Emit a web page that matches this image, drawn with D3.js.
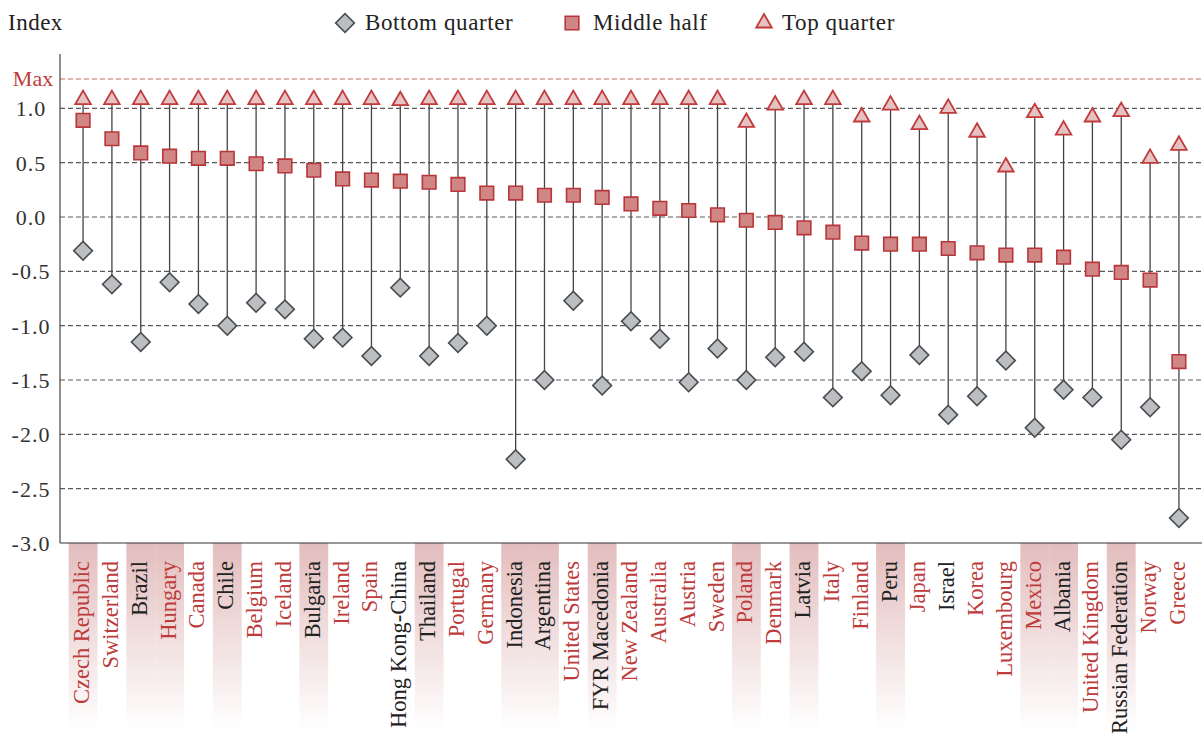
<!DOCTYPE html>
<html>
<head>
<meta charset="utf-8">
<script src="https://cdn.jsdelivr.net/npm/d3@7"></script>
<style>
body { margin: 0; background: #fff; }
text { font-family: "Liberation Serif", "DejaVu Serif", serif; }
</style>
</head>
<body>
<div id="chart"></div>
<script>

// Data
var countries = ["Czech Republic","Switzerland","Brazil","Hungary","Canada","Chile","Belgium","Iceland","Bulgaria","Ireland","Spain","Hong Kong-China","Thailand","Portugal","Germany","Indonesia","Argentina","United States","FYR Macedonia","New Zealand","Australia","Austria","Sweden","Poland","Denmark","Latvia","Italy","Finland","Peru","Japan","Israel","Korea","Luxembourg","Mexico","Albania","United Kingdom","Russian Federation","Norway","Greece"];

var bottomQuarter = [-0.31,-0.62,-1.15,-0.60,-0.80,-1.00,-0.79,-0.85,-1.12,-1.11,-1.28,-0.65,-1.28,-1.16,-1.00,-2.23,-1.50,-0.77,-1.55,-0.96,-1.12,-1.52,-1.21,-1.50,-1.29,-1.24,-1.66,-1.42,-1.64,-1.27,-1.82,-1.65,-1.32,-1.94,-1.59,-1.66,-2.05,-1.75,-2.77];

var middleHalf = [0.89,0.72,0.59,0.56,0.54,0.54,0.49,0.47,0.43,0.35,0.34,0.33,0.32,0.30,0.22,0.22,0.20,0.20,0.18,0.12,0.08,0.06,0.02,-0.03,-0.05,-0.10,-0.14,-0.24,-0.25,-0.25,-0.29,-0.33,-0.35,-0.35,-0.37,-0.48,-0.51,-0.58,-1.33];

var topQuarter = [1.08,1.08,1.08,1.08,1.08,1.08,1.08,1.08,1.08,1.08,1.08,1.07,1.08,1.08,1.08,1.08,1.08,1.08,1.08,1.08,1.08,1.08,1.08,0.87,1.03,1.08,1.08,0.92,1.03,0.85,1.00,0.78,0.46,0.96,0.80,0.92,0.97,0.54,0.66];

// partner countries get black labels, the rest red
var partnerCountries = ["Brazil","Chile","Bulgaria","Hong Kong-China","Thailand","Indonesia","Argentina","FYR Macedonia","Latvia","Peru","Israel","Albania","Russian Federation"];
// countries with shaded label background
var shadedCountries = ["Czech Republic","Brazil","Hungary","Chile","Bulgaria","Thailand","Indonesia","Argentina","FYR Macedonia","Poland","Latvia","Peru","Mexico","Albania","Russian Federation"];

var yTicks = [1.0,0.5,0.0,-0.5,-1.0,-1.5,-2.0,-2.5,-3.0];
var maxValue = 1.27;
var legendLabels = ["Bottom quarter","Middle half","Top quarter"];

var W = 1202, H = 740;
var plotLeft = 60, plotRight = 1202, plotTop = 54, plotBottom = 543;

var red = "#bd3b3b";

var svg = d3.select("#chart").append("svg")
  .attr("width", W)
  .attr("height", H);

var defs = svg.append("defs");
var grad = defs.append("linearGradient")
  .attr("id", "shade")
  .attr("x1", 0).attr("y1", 0).attr("x2", 0).attr("y2", 1);
grad.append("stop").attr("offset", "0%").attr("stop-color", "#e3bdbd");
grad.append("stop").attr("offset", "100%").attr("stop-color", "#ffffff");

var x = d3.scalePoint()
  .domain(countries)
  .range([plotLeft, plotRight])
  .padding(0.8);

var step = x.step();

var y = d3.scaleLinear()
  .domain([-3, 1.5])
  .range([plotBottom, plotTop]);

// shaded label bands
svg.append("g").selectAll("rect")
  .data(countries.filter(function(c) { return shadedCountries.indexOf(c) >= 0; }))
  .enter().append("rect")
  .attr("x", function(d) { return x(d) - step/2; })
  .attr("y", plotBottom)
  .attr("width", step)
  .attr("height", 187)
  .attr("fill", "url(#shade)");

// grid lines
svg.append("g").selectAll("line")
  .data(yTicks.slice(0, -1))
  .enter().append("line")
  .attr("x1", plotLeft).attr("x2", plotRight)
  .attr("y1", function(d) { return y(d); })
  .attr("y2", function(d) { return y(d); })
  .attr("stroke", "#5a5a5a")
  .attr("stroke-width", 1.1)
  .attr("stroke-dasharray", "5,3");

// max line
svg.append("line")
  .attr("x1", plotLeft).attr("x2", plotRight)
  .attr("y1", y(maxValue)).attr("y2", y(maxValue))
  .attr("stroke", "#d06a6a")
  .attr("stroke-width", 1.2)
  .attr("stroke-dasharray", "5,3");

svg.append("text")
  .attr("x", 33).attr("y", y(maxValue) + 7)
  .attr("text-anchor", "middle")
  .attr("font-size", 22)
  .attr("fill", red)
  .text("Max");

// y tick labels
svg.append("g").selectAll("text")
  .data(yTicks)
  .enter().append("text")
  .attr("x", 31)
  .attr("y", function(d) { return y(d) + 8; })
  .attr("text-anchor", "middle")
  .attr("font-size", 22)
  .attr("letter-spacing", 1)
  .attr("fill", "#333")
  .text(function(d) { return d3.format(".1f")(d).replace("\u2212", "-"); });

// axis lines
svg.append("line")
  .attr("x1", plotLeft).attr("x2", plotLeft)
  .attr("y1", plotTop).attr("y2", plotBottom)
  .attr("stroke", "#444").attr("stroke-width", 1.2);
svg.append("line")
  .attr("x1", plotLeft).attr("x2", plotRight)
  .attr("y1", plotBottom).attr("y2", plotBottom)
  .attr("stroke", "#333").attr("stroke-width", 1.2);

// vertical range lines
var idx = d3.range(countries.length);
svg.append("g").selectAll("line")
  .data(idx)
  .enter().append("line")
  .attr("x1", function(i) { return x(countries[i]); })
  .attr("x2", function(i) { return x(countries[i]); })
  .attr("y1", function(i) { return y(topQuarter[i]); })
  .attr("y2", function(i) { return y(bottomQuarter[i]); })
  .attr("stroke", "#444")
  .attr("stroke-width", 1.3);

var diamond = d3.symbol().type(d3.symbolSquare).size(175);
var square = d3.symbol().type(d3.symbolSquare).size(185);
var triangle = d3.symbol().type(d3.symbolTriangle).size(105);

function drawDiamond(sel) {
  sel.attr("d", diamond)
    .attr("fill", "#bcbec1")
    .attr("stroke", "#474c4f")
    .attr("stroke-width", 1.6);
}
function drawSquare(sel) {
  sel.attr("d", square)
    .attr("fill", "#d08684")
    .attr("stroke", "#b8353a")
    .attr("stroke-width", 1.6);
}
function drawTriangle(sel) {
  sel.attr("d", triangle)
    .attr("fill", "#e6c3c3")
    .attr("stroke", "#c13a3c")
    .attr("stroke-width", 1.8);
}

svg.append("g").selectAll("path")
  .data(idx)
  .enter().append("path")
  .attr("transform", function(i) { return "translate(" + x(countries[i]) + "," + y(bottomQuarter[i]) + ") rotate(45)"; })
  .call(drawDiamond);

svg.append("g").selectAll("path")
  .data(idx)
  .enter().append("path")
  .attr("transform", function(i) { return "translate(" + x(countries[i]) + "," + y(middleHalf[i]) + ")"; })
  .call(drawSquare);

svg.append("g").selectAll("path")
  .data(idx)
  .enter().append("path")
  .attr("transform", function(i) { return "translate(" + x(countries[i]) + "," + y(topQuarter[i]) + ")"; })
  .call(drawTriangle);

// country labels
svg.append("g").selectAll("text")
  .data(countries)
  .enter().append("text")
  .attr("transform", function(d) { return "translate(" + (x(d) + 6) + ",561) rotate(-90)"; })
  .attr("text-anchor", "end")
  .attr("font-size", 22.5)
  .attr("fill", function(d) { return partnerCountries.indexOf(d) >= 0 ? "#222" : red; })
  .text(function(d) { return d; });

// title and legend
svg.append("text")
  .attr("x", 8).attr("y", 30)
  .attr("font-size", 23)
  .attr("letter-spacing", 0.5)
  .attr("fill", "#222")
  .text("Index");

var legendX = [345, 572, 764];
var legendTextX = [365, 593, 782];
var legend = svg.append("g");
legend.append("path")
  .attr("transform", "translate(" + legendX[0] + ",23) rotate(45)")
  .call(drawDiamond);
legend.append("path")
  .attr("transform", "translate(" + legendX[1] + ",23)")
  .call(drawSquare);
legend.append("path")
  .attr("transform", "translate(" + legendX[2] + ",23)")
  .call(drawTriangle);
legend.selectAll("text")
  .data(legendLabels)
  .enter().append("text")
  .attr("x", function(d, i) { return legendTextX[i]; })
  .attr("y", 30)
  .attr("font-size", 23)
  .attr("letter-spacing", 0.6)
  .attr("fill", "#222")
  .text(function(d) { return d; });

</script>
</body>
</html>
